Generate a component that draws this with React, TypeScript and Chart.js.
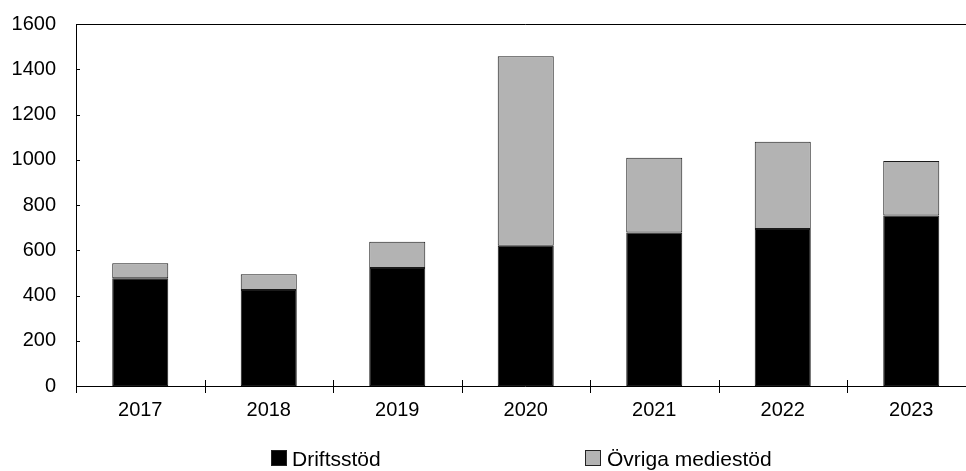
import React, { useEffect, useRef } from 'react';
import { Chart, registerables } from 'chart.js';

Chart.register(...registerables);

const years = ['2017', '2018', '2019', '2020', '2021', '2022', '2023'];
const driftsstod = [476, 424, 522, 620, 679, 694, 754];
const ovrigaMediestod = [66, 70, 116, 838, 330, 386, 240];
const yTicks = [0, 200, 400, 600, 800, 1000, 1200, 1400, 1600];
const seriesLabels = ['Driftsstöd', 'Övriga mediestöd'];

const FONT = "Arial, 'Liberation Sans', sans-serif";

const framePlugin = {
  id: 'frame',
  afterDatasetsDraw(chart: any) {
    const { ctx, chartArea } = chart;
    const { left, right, top, bottom } = chartArea;
    const y = chart.scales.y;
    const n = chart.data.labels.length;
    ctx.save();
    ctx.strokeStyle = '#000';
    ctx.lineWidth = 1;
    ctx.beginPath();
    // top border
    ctx.moveTo(left, top + 0.5);
    ctx.lineTo(right, top + 0.5);
    // y axis
    ctx.moveTo(left + 0.5, top);
    ctx.lineTo(left + 0.5, bottom + 1);
    // x axis
    ctx.moveTo(left, bottom + 0.5);
    ctx.lineTo(right, bottom + 0.5);
    // y ticks
    y.ticks.forEach((t: any) => {
      const py = Math.round(y.getPixelForValue(t.value)) + 0.5;
      ctx.moveTo(left, py);
      ctx.lineTo(left + 4, py);
    });
    // x ticks at category boundaries
    for (let i = 0; i < n; i++) {
      const px = Math.round(left + (i * (right - left)) / n) + 0.5;
      ctx.moveTo(px, bottom - 6);
      ctx.lineTo(px, bottom + 7);
    }
    ctx.stroke();
    ctx.restore();
  },
  afterDraw(chart: any) {
    const { ctx } = chart;
    const items = [
      { x: 271, textX: 292 },
      { x: 585, textX: 607 },
    ];
    ctx.save();
    ctx.font = `21px ${FONT}`;
    ctx.textBaseline = 'alphabetic';
    ctx.textAlign = 'left';
    chart.data.datasets.forEach((ds: any, i: number) => {
      const it = items[i];
      if (!it) return;
      ctx.fillStyle = ds.backgroundColor;
      ctx.fillRect(it.x, 450, 16, 16);
      ctx.strokeStyle = '#222';
      ctx.lineWidth = 1;
      ctx.strokeRect(it.x + 0.5, 450.5, 15, 15);
      ctx.fillStyle = '#000';
      ctx.fillText(ds.label, it.textX, 466);
    });
    ctx.restore();
  },
};

export default function App() {
  const canvasRef = useRef<HTMLCanvasElement | null>(null);

  useEffect(() => {
    if (!canvasRef.current) return;
    Chart.defaults.font.family = FONT;
    const chart = new Chart(canvasRef.current, {
      type: 'bar',
      data: {
        labels: years,
        datasets: [
          {
            label: seriesLabels[0],
            data: driftsstod,
            backgroundColor: '#000000',
            borderColor: '#1a1a1a',
            borderWidth: 1,
            borderSkipped: false,
            barPercentage: 0.436,
            categoryPercentage: 1,
          },
          {
            label: seriesLabels[1],
            data: ovrigaMediestod,
            backgroundColor: '#b3b3b3',
            borderColor: '#1a1a1a',
            borderWidth: 1,
            borderSkipped: false,
            barPercentage: 0.436,
            categoryPercentage: 1,
          },
        ],
      },
      options: {
        animation: false,
        responsive: true,
        maintainAspectRatio: false,
        layout: { padding: { top: 24, right: 14.5, left: 0, bottom: 0 } },
        plugins: {
          legend: { display: false },
          tooltip: { enabled: false },
        },
        scales: {
          x: {
            stacked: true,
            grid: { display: false, drawTicks: false },
            border: { display: false },
            ticks: {
              color: '#000',
              font: { size: 20, family: FONT },
              padding: 12,
              maxRotation: 0,
              autoSkip: false,
            },
            afterFit(scale: any) {
              scale.height = 85;
              scale.paddingLeft = 0;
              scale.paddingRight = 0;
            },
          },
          y: {
            stacked: true,
            min: 0,
            max: 1600,
            afterBuildTicks(scale: any) {
              scale.ticks = yTicks.map((v) => ({ value: v }));
            },
            grid: { display: false, drawTicks: false },
            border: { display: false },
            ticks: {
              color: '#000',
              font: { size: 20, family: FONT },
              padding: 20,
              callback: (v: any) => String(v),
            },
            afterFit(scale: any) {
              scale.width = 76;
              scale.paddingTop = 0;
              scale.paddingBottom = 0;
            },
          },
        },
      },
      plugins: [framePlugin],
    });
    return () => chart.destroy();
  }, []);

  return (
    <div
      style={{
        position: 'absolute',
        left: 0,
        top: 0,
        width: 966,
        height: 471,
        overflow: 'hidden',
        background: '#fff',
      }}
    >
      <div style={{ position: 'relative', width: 990, height: 471 }}>
        <canvas ref={canvasRef} />
      </div>
    </div>
  );
}
